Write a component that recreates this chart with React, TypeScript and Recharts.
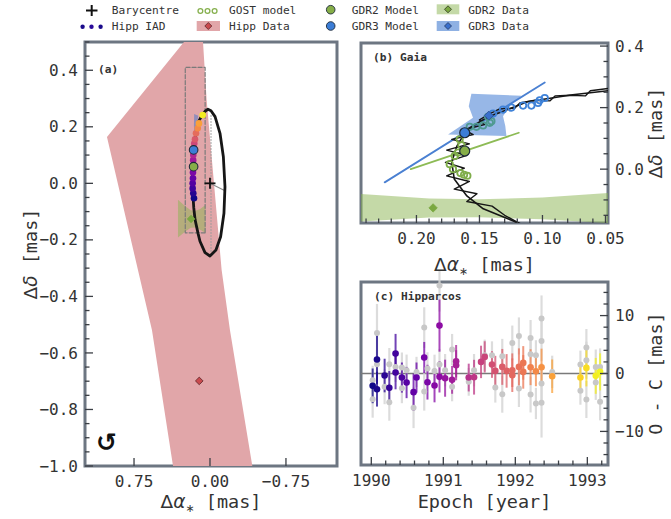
import React from 'react';
import { ScatterChart, Scatter, XAxis, YAxis, ErrorBar, ReferenceLine, ReferenceArea } from 'recharts';

// ---------------- data ----------------
// Hipparcos constraint region (mas)
const HIPP_REGION = [
  { x: 0.257, y: 0.5 }, { x: 0.069, y: 0.5 }, { x: 0.033, y: 0.295 }, { x: -0.115, y: -0.307 },
  { x: -0.197, y: -0.519 }, { x: -0.418, y: -1.0 }, { x: 0.365, y: -1.0 }, { x: 0.573, y: -0.519 },
  { x: 1.017, y: 0.164 },
];
// Gaia DR2 constraint region
const GDR2_REGION = [
  { x: 0.316, y: -0.058 }, { x: 0.244, y: -0.081 }, { x: 0.19, y: -0.095 }, { x: 0.15, y: -0.098 },
  { x: 0.1, y: -0.092 }, { x: 0.045, y: -0.077 }, { x: 0.045, y: -0.176 }, { x: 0.1, y: -0.163 },
  { x: 0.15, y: -0.156 }, { x: 0.19, y: -0.157 }, { x: 0.244, y: -0.17 }, { x: 0.316, y: -0.192 },
];
// Gaia DR3 constraint region
const GDR3_REGION = [
  { x: 0.1564, y: 0.2452 }, { x: 0.1167, y: 0.2387 }, { x: 0.126, y: 0.205 }, { x: 0.1313, y: 0.1721 },
  { x: 0.1295, y: 0.14 }, { x: 0.1286, y: 0.1076 }, { x: 0.1749, y: 0.1129 }, { x: 0.1551, y: 0.1667 },
  { x: 0.1585, y: 0.2043 },
];
// photocentre orbit
const ORBIT = [
  { x: 0.144, y: 0.168 }, { x: 0.112, y: 0.219 }, { x: 0.076, y: 0.242 }, { x: 0.045, y: 0.256 },
  { x: 0.02, y: 0.262 }, { x: -0.01, y: 0.257 }, { x: -0.05, y: 0.236 }, { x: -0.099, y: 0.177 },
  { x: -0.132, y: 0.094 }, { x: -0.148, y: -0.012 }, { x: -0.138, y: -0.106 }, { x: -0.105, y: -0.189 },
  { x: -0.059, y: -0.236 }, { x: 0.0, y: -0.257 }, { x: 0.049, y: -0.245 }, { x: 0.099, y: -0.205 },
  { x: 0.118, y: -0.177 }, { x: 0.147, y: -0.129 }, { x: 0.16, y: -0.087 }, { x: 0.17, y: -0.032 },
  { x: 0.172, y: 0.023 }, { x: 0.168, y: 0.074 }, { x: 0.16, y: 0.129 },
];
// orbit plus scan-by-scan parallax wiggle
const ORBIT_SCAN = [
  { x: 0.03, y: 0.266 }, { x: 0.048, y: 0.262 }, { x: 0.062, y: 0.255 }, { x: 0.066, y: 0.238 },
  { x: 0.078, y: 0.24 }, { x: 0.09, y: 0.238 }, { x: 0.094, y: 0.222 }, { x: 0.106, y: 0.224 },
  { x: 0.118, y: 0.215 }, { x: 0.122, y: 0.198 }, { x: 0.134, y: 0.196 }, { x: 0.142, y: 0.18 },
  { x: 0.15, y: 0.16 }, { x: 0.146, y: 0.145 }, { x: 0.162, y: 0.128 }, { x: 0.155, y: 0.112 },
  { x: 0.172, y: 0.097 }, { x: 0.158, y: 0.082 }, { x: 0.176, y: 0.062 }, { x: 0.16, y: 0.045 },
  { x: 0.177, y: 0.022 }, { x: 0.162, y: 0.003 }, { x: 0.176, y: -0.022 }, { x: 0.158, y: -0.04 },
  { x: 0.17, y: -0.065 }, { x: 0.152, y: -0.08 }, { x: 0.16, y: -0.105 }, { x: 0.14, y: -0.12 },
  { x: 0.13, y: -0.15 }, { x: 0.112, y: -0.19 },
];
const NODE_LINE = [{ x: -0.01, y: 0.24 }, { x: -0.01, y: -0.255 }];
const PERI_LINE = [{ x: 0, y: 0 }, { x: -0.148, y: -0.026 }];
const BARYCENTRE = [{ x: 0, y: 0 }];
// Hipparcos intermediate astrometric data positions
const HIPP_IAD = [
  { x: 0.158, y: -0.053, epoch: 1990.02 }, { x: 0.165, y: -0.035, epoch: 1990.15 },
  { x: 0.171, y: -0.018, epoch: 1990.3 }, { x: 0.171, y: 0.0, epoch: 1990.45 },
  { x: 0.168, y: 0.018, epoch: 1990.6 }, { x: 0.168, y: 0.038, epoch: 1990.8 },
  { x: 0.166, y: 0.082, epoch: 1991.1 }, { x: 0.165, y: 0.1, epoch: 1991.25 },
  { x: 0.155, y: 0.141, epoch: 1991.6 }, { x: 0.148, y: 0.156, epoch: 1991.8 },
  { x: 0.138, y: 0.177, epoch: 1992.0 }, { x: 0.121, y: 0.195, epoch: 1992.3 },
  { x: 0.109, y: 0.212, epoch: 1992.5 }, { x: 0.072, y: 0.242, epoch: 1993.1 },
];
const GDR2_MODEL = [{ x: 0.1617, y: 0.059 }];
const GDR3_MODEL = [{ x: 0.1617, y: 0.1183 }];
const HIPP_DATA = [{ x: 0.106, y: -0.699 }];
const GDR2_DATA = [{ x: 0.1868, y: -0.126 }];
const GDR3_DATA = [{ x: 0.1426, y: 0.174 }];
const GDR2_PM = [{ x: 0.2045, y: 0.0 }, { x: 0.1188, y: 0.1183 }];
const GDR3_PM = [{ x: 0.2252, y: -0.043 }, { x: 0.0982, y: 0.2818 }];
// GOST scan predictions
const GOST_GDR2 = [
  { x: 0.1596, y: -0.0215 }, { x: 0.1622, y: -0.0182 }, { x: 0.1651, y: -0.0129 }, { x: 0.171, y: 0.0 },
  { x: 0.1736, y: 0.0162 }, { x: 0.1696, y: 0.043 }, { x: 0.167, y: 0.054 }, { x: 0.1643, y: 0.0775 },
  { x: 0.1657, y: 0.0968 },
];
const GOST_MID = [
  { x: 0.1577, y: 0.1377 }, { x: 0.1524, y: 0.1377 }, { x: 0.1471, y: 0.142 }, { x: 0.1418, y: 0.1506 },
  { x: 0.1405, y: 0.156 }, { x: 0.1432, y: 0.17 },
];
const GOST_GDR3 = [
  { x: 0.1392, y: 0.1807 }, { x: 0.1313, y: 0.1936 }, { x: 0.1247, y: 0.2 }, { x: 0.1154, y: 0.2065 },
  { x: 0.1088, y: 0.2065 }, { x: 0.1035, y: 0.2151 }, { x: 0.1022, y: 0.2237 }, { x: 0.0982, y: 0.2312 },
];
// Hipparcos O - C residuals along scan (mas)
const RESID = [
  { t: 1990.019, v: -2.13, e: 3.0 }, { t: 1990.079, v: 2.41, e: 4.2 }, { t: 1990.079, v: -2.71, e: 3.0 },
  { t: 1990.185, v: -0.35, e: 2.9 }, { t: 1990.25, v: -2.48, e: 2.9 }, { t: 1990.337, v: 3.44, e: 3.4 },
  { t: 1990.337, v: 0.17, e: 2.9 }, { t: 1990.425, v: -0.7, e: 2.6 }, { t: 1990.49, v: -1.56, e: 2.7 },
  { t: 1990.587, v: -3.22, e: 3.2 }, { t: 1990.628, v: -0.7, e: 2.6 }, { t: 1990.735, v: 2.75, e: 2.7 },
  { t: 1990.78, v: -1.5, e: 3.0 }, { t: 1990.878, v: -2.08, e: 2.9 }, { t: 1990.947, v: 8.27, e: 4.5 },
  { t: 1990.947, v: -0.58, e: 2.7 }, { t: 1991.025, v: -0.81, e: 3.2 }, { t: 1991.122, v: -1.1, e: 2.4 },
  { t: 1991.178, v: 2.12, e: 2.8 }, { t: 1991.178, v: 1.43, e: 2.6 }, { t: 1991.353, v: -0.7, e: 2.4 },
  { t: 1991.427, v: -0.64, e: 3.0 }, { t: 1991.524, v: 2.0, e: 2.8 }, { t: 1991.575, v: 2.87, e: 2.7 },
  { t: 1991.676, v: 1.55, e: 2.3 }, { t: 1991.722, v: 0.45, e: 2.6 }, { t: 1991.819, v: 1.14, e: 3.1 },
  { t: 1991.879, v: 0.45, e: 2.9 }, { t: 1991.958, v: 0.57, e: 2.9 }, { t: 1991.958, v: -0.29, e: 2.9 },
  { t: 1992.05, v: 1.14, e: 3.2 }, { t: 1992.11, v: 1.83, e: 2.9 }, { t: 1992.11, v: 0.28, e: 2.9 },
  { t: 1992.212, v: 1.09, e: 3.1 }, { t: 1992.286, v: 0.4, e: 2.6 }, { t: 1992.364, v: 1.09, e: 3.2 },
  { t: 1992.512, v: -0.47, e: 2.9 }, { t: 1992.904, v: -0.7, e: 2.4 }, { t: 1992.987, v: 0.97, e: 3.2 },
  { t: 1993.117, v: -0.41, e: 3.1 }, { t: 1993.177, v: 0.28, e: 3.2 },
];
// residuals in the perpendicular direction
const RESID_GREY = [
  { t: 1990.019, v: -4.43, e: 3.2 }, { t: 1990.019, v: -1.16, e: 2.5 }, { t: 1990.079, v: 7.01, e: 5.0 },
  { t: 1990.079, v: 1.6, e: 2.5 }, { t: 1990.185, v: -2.3, e: 3.0 }, { t: 1990.25, v: -4.95, e: 3.2 },
  { t: 1990.25, v: 1.6, e: 2.8 }, { t: 1990.337, v: 1.14, e: 2.6 }, { t: 1990.425, v: 1.03, e: 2.6 },
  { t: 1990.425, v: -2.53, e: 2.6 }, { t: 1990.49, v: 0.57, e: 2.7 }, { t: 1990.587, v: -5.93, e: 3.5 },
  { t: 1990.628, v: 0.28, e: 2.6 }, { t: 1990.735, v: 7.93, e: 3.5 }, { t: 1990.735, v: -3.11, e: 3.3 },
  { t: 1990.78, v: 0.86, e: 2.8 }, { t: 1990.878, v: 0.45, e: 2.8 }, { t: 1990.947, v: 1.55, e: 2.7 },
  { t: 1990.947, v: 15.2, e: 4.5 }, { t: 1991.025, v: 0.57, e: 2.8 }, { t: 1991.122, v: 4.13, e: 2.7 },
  { t: 1991.122, v: -2.3, e: 2.5 }, { t: 1991.353, v: -1.44, e: 2.4 }, { t: 1991.427, v: 0.57, e: 2.8 },
  { t: 1991.575, v: 3.15, e: 2.7 }, { t: 1991.676, v: 3.15, e: 2.4 }, { t: 1991.722, v: -2.42, e: 2.6 },
  { t: 1991.819, v: 2.98, e: 3.0 }, { t: 1991.819, v: -3.57, e: 3.2 }, { t: 1991.958, v: 5.28, e: 3.0 },
  { t: 1992.05, v: 6.49, e: 3.2 }, { t: 1992.05, v: -2.59, e: 3.2 }, { t: 1992.212, v: 6.14, e: 3.1 },
  { t: 1992.212, v: 3.33, e: 3.0 }, { t: 1992.212, v: -3.63, e: 3.1 }, { t: 1992.286, v: 3.15, e: 2.6 },
  { t: 1992.286, v: -5.18, e: 2.7 }, { t: 1992.364, v: 9.48, e: 4.0 }, { t: 1992.364, v: 5.62, e: 3.5 },
  { t: 1992.364, v: -1.73, e: 3.5 }, { t: 1992.364, v: -5.06, e: 6.0 }, { t: 1992.512, v: 0.28, e: 2.8 },
  { t: 1992.904, v: 1.55, e: 2.4 }, { t: 1992.904, v: -2.99, e: 2.4 }, { t: 1992.987, v: 4.48, e: 3.2 },
  { t: 1992.987, v: 2.29, e: 3.2 }, { t: 1992.987, v: -4.49, e: 3.2 }, { t: 1993.117, v: 1.14, e: 3.0 },
  { t: 1993.117, v: -1.56, e: 3.0 }, { t: 1993.177, v: 1.14, e: 3.2 }, { t: 1993.177, v: -4.89, e: 3.2 },
];

// axes: domains, ticks, tick labels
const A_X_DOMAIN = [-1.254, 1.234];
const A_Y_DOMAIN = [-1.0, 0.5];
const A_X_TICKS = [0.75, 0, -0.75];
const A_X_LABELS = ['0.75', '0.00', '\u22120.75'];
const A_Y_TICKS = [-1.0, -0.8, -0.6, -0.4, -0.2, 0, 0.2, 0.4];
const A_Y_LABELS = ['\u22121.0', '\u22120.8', '\u22120.6', '\u22120.4', '\u22120.2', '0.0', '0.2', '0.4'];
const B_X_DOMAIN = [0.048, 0.244];
const B_Y_DOMAIN = [-0.175, 0.41];
const B_X_TICKS = [0.2, 0.15, 0.1, 0.05];
const B_X_LABELS = ['0.20', '0.15', '0.10', '0.05'];
const B_Y_TICKS = [0, 0.2, 0.4];
const B_Y_LABELS = ['0.0', '0.2', '0.4'];
const C_X_DOMAIN = [1989.857, 1993.287];
const C_Y_DOMAIN = [-15.8, 15.8];
const C_X_TICKS = [1990, 1991, 1992, 1993];
const C_X_LABELS = ['1990', '1991', '1992', '1993'];
const C_Y_TICKS = [-10, 0, 10];
const C_Y_LABELS = ['\u221210', '0', '10'];
const EPOCH_RANGE = [1990.0, 1993.2];

// ---------------- styling helpers ----------------
const MONO = "'DejaVu Sans Mono', monospace";
const SANS = "'DejaVu Sans', sans-serif";
const FRAME = '#6d7682';
const TICK_COLOR = '#3b3f45';
const TEXT = '#333333';
const PINK = '#e1a6a9';
const GREEN = '#8ab44f';
const BLUE = '#2f6fd0';
const GDR2_C = '#86ae48';
const GDR3_C = '#3b7dd6';
const PLASMA = ['#0d0887', '#41049d', '#6a00a8', '#8f0da4', '#b12a90', '#cc4778', '#e16462', '#f2844b', '#fca636', '#fcce25', '#f0f921'];

function hexToRgb(h: string) {
  const n = parseInt(h.slice(1), 16);
  return [(n >> 16) & 255, (n >> 8) & 255, n & 255];
}
function plasma(epoch: number) {
  let t = (epoch - EPOCH_RANGE[0]) / (EPOCH_RANGE[1] - EPOCH_RANGE[0]);
  t = Math.max(0, Math.min(1, t));
  const s = t * (PLASMA.length - 1);
  const i = Math.min(PLASMA.length - 2, Math.floor(s));
  const f = s - i;
  const a = hexToRgb(PLASMA[i]);
  const b = hexToRgb(PLASMA[i + 1]);
  const c = a.map((v, k) => Math.round(v + (b[k] - v) * f));
  return `rgb(${c[0]},${c[1]},${c[2]})`;
}

function minorTicks(lo: number, hi: number, step: number, majors: number[]) {
  const out: number[] = [];
  const start = Math.ceil(lo / step - 1e-9);
  const end = Math.floor(hi / step + 1e-9);
  for (let i = start; i <= end; i++) {
    const v = Number((i * step).toFixed(6));
    if (!majors.some((m) => Math.abs(m - v) < 1e-6)) out.push(v);
  }
  return out;
}

type Side = 'left' | 'right' | 'bottom';
function tickRenderer(side: Side, edge: number, majors: number[], labels: string[]) {
  return function Tick(props: any) {
    const v = Number(props.payload?.value);
    const idx = majors.findIndex((m) => Math.abs(m - v) < 1e-6);
    const len = idx >= 0 ? 8 : 4.5;
    if (side === 'bottom') {
      const x = props.x;
      return (
        <g>
          <line x1={x} x2={x} y1={edge} y2={edge - len} stroke={TICK_COLOR} strokeWidth={1.3} />
          {idx >= 0 && (
            <text x={x} y={edge + 21} textAnchor="middle" fontFamily={MONO} fontSize={16} fill={TEXT}>
              {labels[idx]}
            </text>
          )}
        </g>
      );
    }
    const y = props.y;
    const dir = side === 'left' ? 1 : -1;
    return (
      <g>
        <line x1={edge} x2={edge + dir * len} y1={y} y2={y} stroke={TICK_COLOR} strokeWidth={1.3} />
        {idx >= 0 && (
          <text x={edge - dir * 7} y={y + 5.6} textAnchor={side === 'left' ? 'end' : 'start'} fontFamily={MONO} fontSize={16} fill={TEXT}>
            {labels[idx]}
          </text>
        )}
      </g>
    );
  };
}

const Hidden = () => <g />;
const pathOf = (pts: { x: number; y: number }[], closed: boolean) =>
  pts.map((q, i) => `${i ? 'L' : 'M'}${q.x.toFixed(2)},${q.y.toFixed(2)}`).join(' ') + (closed ? ' Z' : '');
const fillLine = (fill: string, opacity: number) => (p: any) =>
  <path d={pathOf(p.points, true)} fill={fill} fillOpacity={opacity} stroke="none" />;
const strokeLine = (stroke: string, width: number, closed = false, dash?: string) => (p: any) =>
  <path d={pathOf(p.points, closed)} fill="none" stroke={stroke} strokeWidth={width} strokeDasharray={dash} strokeLinejoin="round" strokeLinecap="round" />;

const dot = (r: number, fill: string, stroke = 'none', sw = 0) => (p: any) =>
  <circle cx={p.cx} cy={p.cy} r={r} fill={fill} stroke={stroke} strokeWidth={sw} />;
const ring = (r: number, stroke: string) => (p: any) =>
  <circle cx={p.cx} cy={p.cy} r={r} fill="none" stroke={stroke} strokeWidth={1.8} />;
const diamond = (r: number, fill: string, stroke: string) => (p: any) =>
  <path d={`M${p.cx},${p.cy - r} L${p.cx + r},${p.cy} L${p.cx},${p.cy + r} L${p.cx - r},${p.cy} Z`} fill={fill} stroke={stroke} strokeWidth={0.8} />;
const plus = (p: any) => (
  <g stroke="#111" strokeWidth={1.8}>
    <line x1={p.cx - 5.5} x2={p.cx + 5.5} y1={p.cy} y2={p.cy} />
    <line x1={p.cx} x2={p.cx} y1={p.cy - 5.5} y2={p.cy + 5.5} />
  </g>
);
const epochDot = (p: any) => <circle cx={p.cx} cy={p.cy} r={3.3} fill={plasma(p.payload.epoch)} />;

const ZOOM_BOX = [
  { x: B_X_DOMAIN[0], y: B_Y_DOMAIN[0] }, { x: B_X_DOMAIN[1], y: B_Y_DOMAIN[0] },
  { x: B_X_DOMAIN[1], y: B_Y_DOMAIN[1] }, { x: B_X_DOMAIN[0], y: B_Y_DOMAIN[1] },
];

const NA = false;

// plot frame spanning the full axis domains
function frame(xd: number[], yd: number[]) {
  return (
    <ReferenceArea x1={xd[0]} x2={xd[1]} y1={yd[0]} y2={yd[1]} fill="none" fillOpacity={0}
      stroke={FRAME} strokeWidth={3} ifOverflow="visible" />
  );
}

// ---------------- panel (a): full orbit ----------------
function PanelA() {
  const left = 85, bottom = 466;
  const yTicks = [...A_Y_TICKS, ...minorTicks(A_Y_DOMAIN[0], A_Y_DOMAIN[1], 0.05, A_Y_TICKS)];
  return (
    <ScatterChart width={350} height={519} margin={{ top: 42, right: 13, bottom: 23, left: 25 }}>
      <XAxis type="number" dataKey="x" domain={A_X_DOMAIN} reversed allowDataOverflow ticks={A_X_TICKS} interval={0}
        height={30} axisLine={false} tickLine={false} tick={tickRenderer('bottom', bottom, A_X_TICKS, A_X_LABELS)} />
      <YAxis type="number" dataKey="y" domain={A_Y_DOMAIN} allowDataOverflow ticks={yTicks} interval={0}
        width={60} axisLine={false} tickLine={false} tick={tickRenderer('left', left, A_Y_TICKS, A_Y_LABELS)} />
      <Scatter data={HIPP_REGION} shape={Hidden} line={fillLine(PINK, 1)} isAnimationActive={NA} />
      <Scatter data={GDR2_REGION} shape={Hidden} line={fillLine(GREEN, 0.5)} isAnimationActive={NA} />
      <Scatter data={GDR3_REGION} shape={Hidden} line={fillLine(BLUE, 0.45)} isAnimationActive={NA} />
      <Scatter data={ZOOM_BOX} shape={Hidden} line={strokeLine('#7a7a7a', 1.2, true, '4 2')} isAnimationActive={NA} />
      <Scatter data={NODE_LINE} shape={Hidden} line={strokeLine('#9a9a9a', 1, false, '1 2')} isAnimationActive={NA} />
      <Scatter data={PERI_LINE} shape={Hidden} line={strokeLine('#8a8a8a', 1.1)} isAnimationActive={NA} />
      <Scatter data={ORBIT} shape={Hidden} line={strokeLine('#161616', 2.8, true)} isAnimationActive={NA} />
      <Scatter data={HIPP_IAD} shape={epochDot} isAnimationActive={NA} />
      <Scatter data={GDR3_MODEL} shape={dot(4.3, GDR3_C, '#1d2a3a', 1.1)} isAnimationActive={NA} />
      <Scatter data={GDR2_MODEL} shape={dot(4.3, GDR2_C, '#1d2a3a', 1.1)} isAnimationActive={NA} />
      <Scatter data={GDR2_DATA} shape={diamond(3.8, '#7aa840', '#7aa840')} isAnimationActive={NA} />
      <Scatter data={HIPP_DATA} shape={diamond(3.8, '#c94a4e', '#5a2428')} isAnimationActive={NA} />
      <Scatter data={BARYCENTRE} shape={plus} isAnimationActive={NA} />
      {frame(A_X_DOMAIN, A_Y_DOMAIN)}
    </ScatterChart>
  );
}

// ---------------- panel (b): Gaia zoom ----------------
function PanelB() {
  const right = 268, bottom = 223;
  const xTicks = [...B_X_TICKS, ...minorTicks(B_X_DOMAIN[0], B_X_DOMAIN[1], 0.01, B_X_TICKS)];
  const yTicks = [...B_Y_TICKS, ...minorTicks(B_Y_DOMAIN[0], B_Y_DOMAIN[1], 0.05, B_Y_TICKS)];
  return (
    <ScatterChart width={331} height={260} margin={{ top: 43, right: 23, bottom: 7, left: 21 }}>
      <XAxis type="number" dataKey="x" domain={B_X_DOMAIN} reversed allowDataOverflow ticks={xTicks} interval={0}
        height={30} axisLine={false} tickLine={false} tick={tickRenderer('bottom', bottom, B_X_TICKS, B_X_LABELS)} />
      <YAxis type="number" dataKey="y" orientation="right" domain={B_Y_DOMAIN} allowDataOverflow ticks={yTicks} interval={0}
        width={40} axisLine={false} tickLine={false} tick={tickRenderer('right', right, B_Y_TICKS, B_Y_LABELS)} />
      <Scatter data={GDR2_REGION} shape={Hidden} line={fillLine(GREEN, 0.5)} isAnimationActive={NA} />
      <Scatter data={GDR3_REGION} shape={Hidden} line={fillLine(BLUE, 0.5)} isAnimationActive={NA} />
      <Scatter data={GDR3_PM} shape={Hidden} line={strokeLine('#4a80d2', 1.8)} isAnimationActive={NA} />
      <Scatter data={GDR2_PM} shape={Hidden} line={strokeLine('#8dbb55', 1.8)} isAnimationActive={NA} />
      <Scatter data={ORBIT} shape={Hidden} line={strokeLine('#161616', 1.6, true)} isAnimationActive={NA} />
      <Scatter data={ORBIT_SCAN} shape={Hidden} line={strokeLine('#161616', 1.4)} isAnimationActive={NA} />
      <Scatter data={GOST_GDR2} shape={ring(3.2, '#7fad4a')} isAnimationActive={NA} />
      <Scatter data={GOST_MID} shape={ring(3.2, '#4f9a92')} isAnimationActive={NA} />
      <Scatter data={GOST_GDR3} shape={ring(3.2, '#3f82d8')} isAnimationActive={NA} />
      <Scatter data={GDR3_MODEL} shape={dot(5, GDR3_C, '#1d2a3a', 1.2)} isAnimationActive={NA} />
      <Scatter data={GDR2_MODEL} shape={dot(5, GDR2_C, '#1d2a3a', 1.2)} isAnimationActive={NA} />
      <Scatter data={GDR3_DATA} shape={diamond(4.5, '#3a70cc', '#2a4f8f')} isAnimationActive={NA} />
      <Scatter data={GDR2_DATA} shape={diamond(4.2, '#7aa840', '#7aa840')} isAnimationActive={NA} />
      {frame(B_X_DOMAIN, B_Y_DOMAIN)}
    </ScatterChart>
  );
}

// ---------------- panel (c): Hipparcos residuals ----------------
function PanelC() {
  const right = 268, bottom = 195;
  const xTicks = [...C_X_TICKS, ...minorTicks(C_X_DOMAIN[0], C_X_DOMAIN[1], 0.2, C_X_TICKS)];
  const yTicks = [...C_Y_TICKS, ...minorTicks(C_Y_DOMAIN[0], C_Y_DOMAIN[1], 2, C_Y_TICKS)];
  return (
    <ScatterChart width={331} height={249} margin={{ top: 12, right: 23, bottom: 24, left: 21 }}>
      <XAxis type="number" dataKey="t" domain={C_X_DOMAIN} allowDataOverflow ticks={xTicks} interval={0}
        height={30} axisLine={false} tickLine={false} tick={tickRenderer('bottom', bottom, C_X_TICKS, C_X_LABELS)} />
      <YAxis type="number" dataKey="v" orientation="right" domain={C_Y_DOMAIN} allowDataOverflow ticks={yTicks} interval={0}
        width={40} axisLine={false} tickLine={false} tick={tickRenderer('right', right, C_Y_TICKS, C_Y_LABELS)} />
      <ReferenceLine y={0} stroke="#7a7a7a" strokeWidth={1.5} />
      <Scatter data={RESID_GREY} shape={dot(3, '#c8c8c8')} isAnimationActive={NA}>
        <ErrorBar dataKey="e" direction="y" width={0} stroke="#d6d6d6" strokeWidth={2.2} strokeOpacity={0.85} />
      </Scatter>
      {RESID.map((d, i) => (
        <Scatter key={i} data={[d]} shape={dot(3.3, plasma(d.t))} isAnimationActive={NA}>
          <ErrorBar dataKey="e" direction="y" width={0} stroke={plasma(d.t)} strokeWidth={2} strokeOpacity={0.75} />
        </Scatter>
      ))}
      {frame(C_X_DOMAIN, C_Y_DOMAIN)}
    </ScatterChart>
  );
}

// ---------------- titles and legend ----------------
function AlphaLabel({ x, y }: { x: number; y: number }) {
  return (
    <text x={x} y={y} textAnchor="middle" fontFamily={MONO} fontSize={18.5} fill={TEXT}>
      <tspan fontFamily={SANS}>Δ</tspan>
      <tspan fontFamily={SANS} fontStyle="italic">α</tspan>
      <tspan fontFamily={SANS} fontSize={11} dy={4}>∗</tspan>
      <tspan dy={-4}> [mas]</tspan>
    </text>
  );
}
function DeltaLabel({ x, y }: { x: number; y: number }) {
  return (
    <text transform={`translate(${x},${y}) rotate(-90)`} textAnchor="middle" fontFamily={MONO} fontSize={18.5} fill={TEXT}>
      <tspan fontFamily={SANS}>Δ</tspan>
      <tspan fontFamily={SANS} fontStyle="italic">δ</tspan>
      <tspan> [mas]</tspan>
    </text>
  );
}

const LEGEND_TEXT = { fontFamily: MONO, fontSize: 11.2, fill: TEXT } as const;

function Overlay() {
  return (
    <svg width={671} height={519} style={{ position: 'absolute', left: 0, top: 0, pointerEvents: 'none' }}>
      {/* legend, row 1 */}
      <g stroke="#111" strokeWidth={2}>
        <line x1={86} x2={97.5} y1={10.5} y2={10.5} />
        <line x1={91.7} x2={91.7} y1={5} y2={16} />
      </g>
      <text x={111.7} y={14.3} {...LEGEND_TEXT}>Barycentre</text>
      {[200.4, 207.5, 214.6].map((cx) => (
        <circle key={cx} cx={cx} cy={11} r={2.4} fill="none" stroke="#86b04e" strokeWidth={1.3} />
      ))}
      <text x={229} y={14.3} {...LEGEND_TEXT}>GOST model</text>
      <circle cx={330.7} cy={9.7} r={4.3} fill={GDR2_C} stroke="#1d2a3a" strokeWidth={0.9} />
      <text x={351.7} y={14.3} {...LEGEND_TEXT}>GDR2 Model</text>
      <rect x={436.7} y={4.3} width={22.6} height={10} fill="#c4d9a7" />
      <path d="M448,5.8 L451.5,9.3 L448,12.8 L444.5,9.3 Z" fill="#7aa840" stroke="#2e3a1e" strokeWidth={0.8} />
      <text x={468.3} y={14.3} {...LEGEND_TEXT}>GDR2 Data</text>
      {/* legend, row 2 */}
      {[82.6, 91.5, 100.6].map((cx, i) => (
        <circle key={cx} cx={cx} cy={26.8} r={2.2} fill={i === 1 ? '#2a0a9a' : '#1a0b8b'} />
      ))}
      <text x={111.7} y={30.3} {...LEGEND_TEXT}>Hipp IAD</text>
      <rect x={196.7} y={21} width={23.3} height={10} fill={PINK} />
      <path d="M208.3,22.5 L211.8,26 L208.3,29.5 L204.8,26 Z" fill="#c94a4e" stroke="#5a2428" strokeWidth={0.8} />
      <text x={229} y={30.3} {...LEGEND_TEXT}>Hipp Data</text>
      <circle cx={330.7} cy={26} r={4.3} fill={GDR3_C} stroke="#1d2a3a" strokeWidth={0.9} />
      <text x={351.7} y={30.3} {...LEGEND_TEXT}>GDR3 Model</text>
      <rect x={436.7} y={21} width={22.6} height={10} fill="#8fb1e3" />
      <path d="M448,22.5 L451.5,26 L448,29.5 L444.5,26 Z" fill="#3a70cc" stroke="#1f3560" strokeWidth={0.8} />
      <text x={468.3} y={30.3} {...LEGEND_TEXT}>GDR3 Data</text>

      {/* panel tags */}
      <text x={98} y={73} fontFamily={MONO} fontSize={11.2} fontWeight="bold" fill={TEXT}>(a)</text>
      <text x={373} y={61} fontFamily={MONO} fontSize={11.2} fontWeight="bold" fill={TEXT}>(b) Gaia</text>
      <text x={374} y={300} fontFamily={MONO} fontSize={11.2} fontWeight="bold" fill={TEXT}>(c) Hipparcos</text>
      {/* sense of orbital motion */}
      <text x={106.5} y={451} textAnchor="middle" fontFamily={SANS} fontSize={25} fontWeight="bold" fill="#111">↺</text>

      {/* axis titles */}
      <DeltaLabel x={37} y={254} />
      <AlphaLabel x={211} y={508} />
      <AlphaLabel x={484.5} y={271} />
      <DeltaLabel x={661.5} y={133} />
      <text x={484.5} y={508} textAnchor="middle" fontFamily={MONO} fontSize={18.5} fill={TEXT}>Epoch [year]</text>
      <text transform="translate(661.5,373.5) rotate(-90)" textAnchor="middle" fontFamily={MONO} fontSize={18.5} fill={TEXT}>O - C [mas]</text>
    </svg>
  );
}

export default function App() {
  return (
    <div style={{ position: 'absolute', left: 0, top: 0, width: 671, height: 519, background: '#ffffff', overflow: 'hidden' }}>
      <div style={{ position: 'absolute', left: 0, top: 0 }}><PanelA /></div>
      <div style={{ position: 'absolute', left: 340, top: 0 }}><PanelB /></div>
      <div style={{ position: 'absolute', left: 340, top: 270 }}><PanelC /></div>
      <Overlay />
    </div>
  );
}
